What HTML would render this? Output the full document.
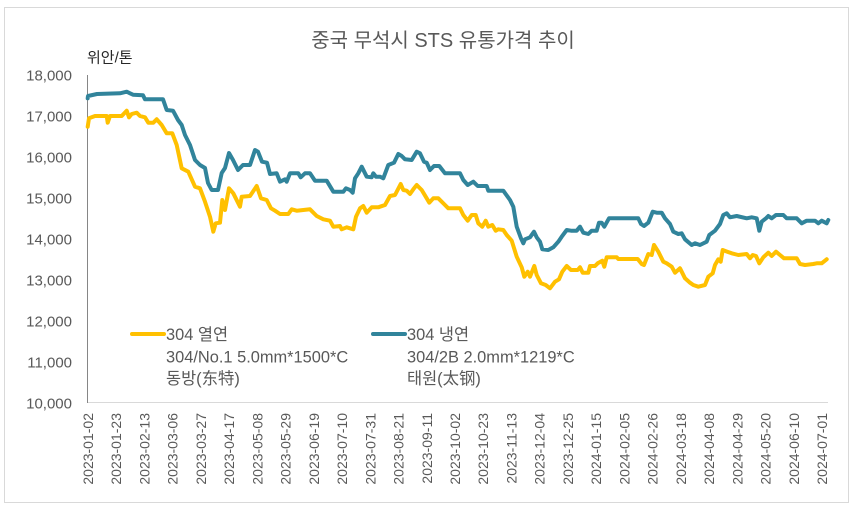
<!DOCTYPE html>
<html>
<head>
<meta charset="utf-8">
<style>
html,body{margin:0;padding:0;background:#fff;}
body{width:853px;height:513px;overflow:hidden;}
svg{display:block;}
text{font-family:"Liberation Sans","Noto Sans CJK KR",sans-serif;}
</style>
</head>
<body>
<svg width="853" height="513" viewBox="0 0 853 513" xmlns="http://www.w3.org/2000/svg">
<rect x="4.5" y="7.5" width="844" height="495" fill="#fff" stroke="#d9d9d9" stroke-width="1"/>
<text x="443" y="47" text-anchor="middle" font-size="20" fill="#595959">중국 무석시 STS 유통가격 추이</text>
<text x="87" y="62.5" font-size="15" fill="#262626">위안/톤</text>
<g font-size="15" fill="#595959" text-anchor="end">
<text x="72" y="80.5">18,000</text>
<text x="72" y="121.5">17,000</text>
<text x="72" y="162.5">16,000</text>
<text x="72" y="203.5">15,000</text>
<text x="72" y="244.5">14,000</text>
<text x="72" y="285.5">13,000</text>
<text x="72" y="326.5">12,000</text>
<text x="72" y="367.5">11,000</text>
<text x="72" y="408.5">10,000</text>
</g>
<line x1="87" y1="402.5" x2="828" y2="402.5" stroke="#d9d9d9" stroke-width="1"/>
<line x1="87.5" y1="75" x2="87.5" y2="403" stroke="#868686" stroke-width="1"/>
<g font-size="14" fill="#595959" text-anchor="end">
<text transform="translate(93,413) rotate(-90)">2023-01-02</text>
<text transform="translate(121.2,413) rotate(-90)">2023-01-23</text>
<text transform="translate(149.5,413) rotate(-90)">2023-02-13</text>
<text transform="translate(177.7,413) rotate(-90)">2023-03-06</text>
<text transform="translate(205.9,413) rotate(-90)">2023-03-27</text>
<text transform="translate(234.2,413) rotate(-90)">2023-04-17</text>
<text transform="translate(262.4,413) rotate(-90)">2023-05-08</text>
<text transform="translate(290.6,413) rotate(-90)">2023-05-29</text>
<text transform="translate(318.8,413) rotate(-90)">2023-06-19</text>
<text transform="translate(347.1,413) rotate(-90)">2023-07-10</text>
<text transform="translate(375.3,413) rotate(-90)">2023-07-31</text>
<text transform="translate(403.5,413) rotate(-90)">2023-08-21</text>
<text transform="translate(431.8,413) rotate(-90)">2023-09-11</text>
<text transform="translate(460,413) rotate(-90)">2023-10-02</text>
<text transform="translate(488.2,413) rotate(-90)">2023-10-23</text>
<text transform="translate(516.5,413) rotate(-90)">2023-11-13</text>
<text transform="translate(544.7,413) rotate(-90)">2023-12-04</text>
<text transform="translate(572.9,413) rotate(-90)">2023-12-25</text>
<text transform="translate(601.2,413) rotate(-90)">2024-01-15</text>
<text transform="translate(629.4,413) rotate(-90)">2024-02-05</text>
<text transform="translate(657.6,413) rotate(-90)">2024-02-26</text>
<text transform="translate(685.8,413) rotate(-90)">2024-03-18</text>
<text transform="translate(714.1,413) rotate(-90)">2024-04-08</text>
<text transform="translate(742.3,413) rotate(-90)">2024-04-29</text>
<text transform="translate(770.5,413) rotate(-90)">2024-05-20</text>
<text transform="translate(798.8,413) rotate(-90)">2024-06-10</text>
<text transform="translate(827,413) rotate(-90)">2024-07-01</text>
</g>
<polyline fill="none" stroke="#31849B" stroke-width="4" stroke-linejoin="round" stroke-linecap="round" points="87.7,98.3 88,96 97,94 120,93.3 126.7,91.7 130,93.3 133,94.7 143,95.3 145,99.3 163,99.3 166.7,110 173,110.7 178,120 181.7,125 185,135 190,145 195,160 200,165 205,168 208,183 211.7,190 218,190 221.7,173 225,168 229,153 233,160 238,170 243,165 250,165 255,150 258,151.7 262,161.7 267,162.7 270,174 276.7,173.3 280,181.7 285,179.3 286.7,181.7 290,173.3 298.3,173.3 300.7,177.3 305,173.3 310,173.3 315,180.7 326.7,180.7 333.3,191.7 343.3,191.7 346,188.3 350,190 352.7,192.7 355,178.3 358.3,173.3 361.7,166.7 366.7,176.7 371.7,177.3 373.3,173.3 376,176.7 380,176.7 383.3,178.3 388.3,165 394,162.7 398.3,154 401.7,156 405,159.3 411.7,160 416.7,151.7 420,153.3 424,161.7 426.7,162.7 430,170 434,166 439.3,166 445,173.3 460,173.3 463.3,180 467.7,185 473.3,181.7 477.7,186 486.7,186 488.3,190.7 503.3,190.7 510,200 513.3,206.7 516.7,226.7 521,238.3 523.3,243.3 525,239.3 530,237.3 534,231.7 536.7,237.3 540,241.7 542.3,249.3 548.3,250 553.3,247.3 558.3,241.7 561.7,236.7 566.7,230 571,230.7 576.7,230.7 580,226.7 583.3,232.7 588.3,234 591.7,230.7 596.7,230.7 599,222.7 601.7,222.7 604.3,226.7 609,218.3 638.3,218.3 641,224 644,226 648.3,222.7 652.7,211.7 656.7,212.7 661.7,212.7 665,218.3 670,224 673.3,231.7 678.3,234 681.7,233.3 685,239.3 691.7,245 695,243.3 700,245 706.7,241.7 709.3,235 715,230.7 720,224 723.3,215 726.7,213.3 730,217.3 736.7,216 746.7,218.3 751.7,217.3 756.7,218.3 759.3,230.7 761.7,221.7 766,218.3 768.3,216 771.7,218.3 776,215 783.3,215 786.7,218.3 796.7,218.3 801.7,223.3 806.7,220.7 815,220.7 818.3,223.3 821.7,220.7 826.7,223.3 828.3,220"/>
<polyline fill="none" stroke="#FFC000" stroke-width="4" stroke-linejoin="round" stroke-linecap="round" points="87.7,126.7 89,118.3 95,116 106.7,116 107.7,122.7 110,116 121.7,116 126.7,110.7 129,117.3 131.7,114 136.7,112.7 140,116 145,117.3 148.3,122.7 153.3,122.7 156.7,119.3 161.7,125 166.7,133.3 172.3,133.3 176.7,145 181.7,168.3 188.3,171.7 195,186.7 200,188.3 205,201.7 210,216.7 213.3,231.7 215.7,223.3 220,222.7 222.3,200 225,210 229,188.3 233.3,193.3 240,206.7 241.7,196.7 250,196 256.7,186 261,198.3 266.7,200 271,208.3 275,210.7 280,214 288.3,214 291.7,209.3 296.7,210.7 303.3,210 310,209.3 316.7,216 323.3,219.3 330,220.7 333.3,226.7 340,226 341.7,229.3 346.7,227.3 353.3,229.3 356,216.7 360,208.3 363.3,206 366.7,212.7 371.7,207.3 378.3,207.3 385,205 390,196 395,195 400.7,184 403.3,190 406.7,190.7 410,194 413.3,189.3 416.7,185 421.7,190 426.7,198.3 429.3,202.7 433.3,198.3 438.3,198.3 445,205 448.3,208.3 460,208.3 463.3,215 467.7,220.7 471.7,215 475.7,215 478.3,223.3 482.3,226.7 485.7,220.7 488.3,226.7 492.3,225 495.7,230.7 498.3,229.3 503.3,230 506.7,235 511.7,240.7 516.7,256.7 521.7,267.3 524.3,276.7 527.7,271.7 530,276.7 534.3,266 536.7,275 541,283.3 545.7,285 550,288.3 555,281.7 559,279.3 562.3,271.7 566.7,266 571,270 577.7,270 580,267.3 582.7,272.7 588.3,272.7 590,266 595,266 597.7,263.3 602.3,260.7 604.3,266.7 606.7,257.3 616.7,257.3 618.3,259 637.7,259 641.7,264 644,265 648.3,254 651.7,255 654,245 658.3,251.7 663.3,261.7 666.7,263.3 671.7,266.7 675,272.7 680,268.3 685,278.3 690,282.7 693.3,285 698.3,286.7 705,285 708.3,276.7 712.7,273.3 715,265 718.3,259.3 720.7,261.7 722.7,250 727.3,251.7 731.7,253.3 738.3,255 746.7,254 750,258.3 752.7,255 756,256 759.3,263.3 763.3,257.3 768.3,252.7 771.7,256 776,251.7 780,255 784,258.3 796.7,258.3 800,264 805,265 813.3,264 816.7,263.3 821.7,263.3 826.7,259.3"/>
<line x1="132" y1="334" x2="164" y2="334" stroke="#FFC000" stroke-width="4" stroke-linecap="round"/>
<g font-size="16.4" fill="#595959">
<text x="166" y="340">304 열연</text>
<text x="166" y="362.5">304/No.1 5.0mm*1500*C</text>
<text x="166" y="384">동방(东特)</text>
</g>
<line x1="373" y1="334" x2="405" y2="334" stroke="#31849B" stroke-width="4" stroke-linecap="round"/>
<g font-size="16.4" fill="#595959">
<text x="407" y="340">304 냉연</text>
<text x="407" y="362.5">304/2B 2.0mm*1219*C</text>
<text x="407" y="384">태원(太钢)</text>
</g>
</svg>
</body>
</html>
